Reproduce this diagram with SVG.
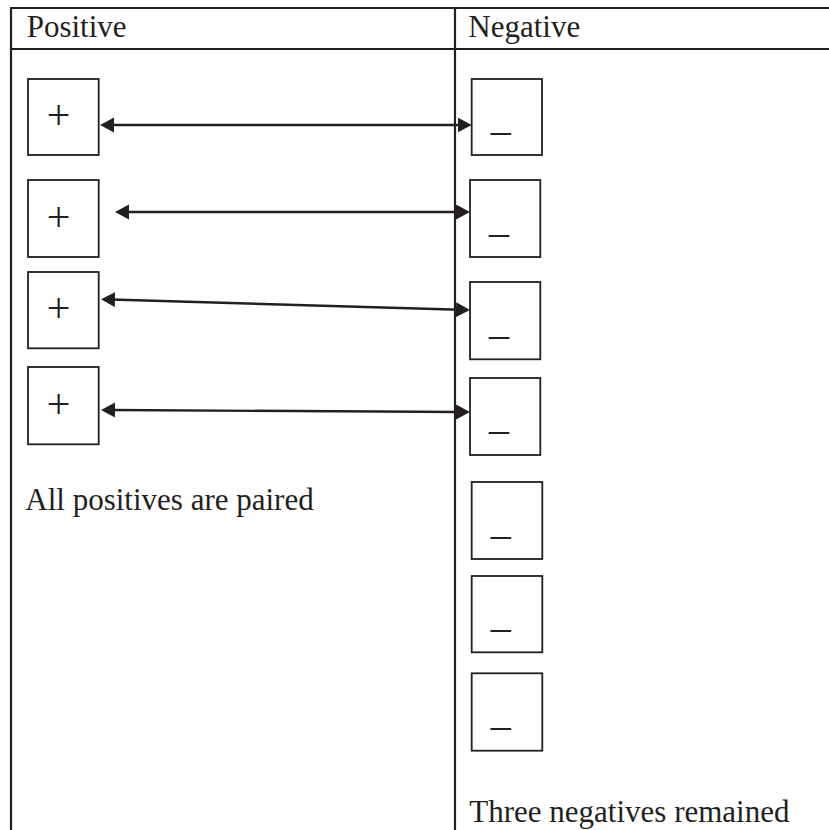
<svg xmlns="http://www.w3.org/2000/svg" width="829" height="830" viewBox="0 0 829 830">
<defs>
<style>
.frame{stroke:#231f20;stroke-width:2.2;fill:none}
.box{stroke:#231f20;stroke-width:1.8;fill:#fff}
.lbl{font-family:"Liberation Serif","Times New Roman",serif;font-size:31px;fill:#231f20}
.sign{font-family:"Liberation Serif","Times New Roman",serif;font-size:42px;fill:#231f20}
.neg{font-family:"Liberation Serif","Times New Roman",serif;font-size:40px;fill:#231f20}
.conn{stroke:#231f20;stroke-width:2.4;fill:none;marker-start:url(#ah);marker-end:url(#ah)}
</style>
<marker id="ah" markerUnits="userSpaceOnUse" markerWidth="16" markerHeight="16" refX="4" refY="7.5" orient="auto-start-reverse">
<path d="M0,0 L14,7.5 L0,15 z" fill="#231f20"/>
</marker>
</defs>
<rect width="829" height="830" fill="#fff"/>
<g id="table">
<line class="frame" x1="10" y1="8" x2="829" y2="8"/>
<line class="frame" x1="10" y1="49" x2="829" y2="49"/>
<line class="frame" x1="11" y1="7" x2="11" y2="830"/>
<line class="frame" x1="455" y1="7" x2="455" y2="830"/>
<text class="lbl" x="26.7" y="37">Positive</text>
<text class="lbl" x="468.3" y="37">Negative</text>
</g>
<g id="pos1"><rect class="box" x="28" y="79" width="70.7" height="76"/><text class="sign" x="58.7" y="128.6" text-anchor="middle">+</text></g>
<g id="pos2"><rect class="box" x="28" y="180" width="70.7" height="77"/><text class="sign" x="58.7" y="231.3" text-anchor="middle">+</text></g>
<g id="pos3"><rect class="box" x="28" y="272" width="70.7" height="76.3"/><text class="sign" x="58.7" y="321.6" text-anchor="middle">+</text></g>
<g id="pos4"><rect class="box" x="28" y="367" width="70.7" height="77.3"/><text class="sign" x="58.7" y="417.9" text-anchor="middle">+</text></g>
<g id="neg1"><rect class="box" x="471.7" y="79" width="70.3" height="76"/><text class="neg" x="490.7" y="130">_</text></g>
<g id="neg2"><rect class="box" x="470" y="180" width="70.3" height="77"/><text class="neg" x="489" y="232.3">_</text></g>
<g id="neg3"><rect class="box" x="470" y="282" width="70.3" height="77.3"/><text class="neg" x="489" y="334">_</text></g>
<g id="neg4"><rect class="box" x="470" y="378" width="70.3" height="77"/><text class="neg" x="489" y="429.3">_</text></g>
<g id="neg5"><rect class="box" x="471.7" y="482" width="70.6" height="77"/><text class="neg" x="490.7" y="534">_</text></g>
<g id="neg6"><rect class="box" x="471.7" y="576" width="70.6" height="76.3"/><text class="neg" x="490.7" y="627">_</text></g>
<g id="neg7"><rect class="box" x="471.7" y="673.3" width="70.6" height="77.4"/><text class="neg" x="490.7" y="725">_</text></g>
<g id="connectors">
<line class="conn" x1="110" y1="125" x2="461.7" y2="125"/>
<line class="conn" x1="125" y1="212" x2="460" y2="212"/>
<line class="conn" x1="111" y1="299.5" x2="460" y2="309.8"/>
<line class="conn" x1="111" y1="410" x2="460" y2="412"/>
</g>
<g id="notes">
<text class="lbl" x="25.3" y="510">All positives are paired</text>
<text class="lbl" x="469.3" y="821.7">Three negatives remained</text>
</g>
</svg>
